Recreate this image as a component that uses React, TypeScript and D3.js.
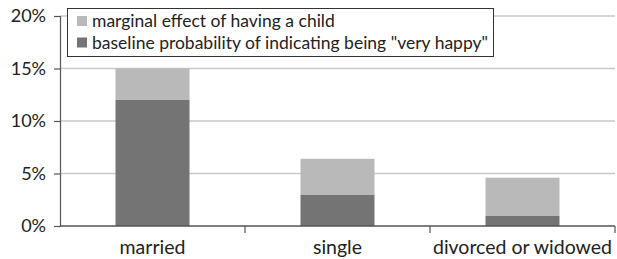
import { useEffect, useRef } from 'react';
import * as d3 from 'd3';

const categories = ['married', 'single', 'divorced or widowed'];
const baseline = [12, 3.0, 1.0];
const childEffect = [3.0, 3.4, 3.6];
const yTicks = [0, 5, 10, 15, 20];
const legendLabels = ['marginal effect of having a child', 'baseline probability of indicating being "very happy"'];

const DARK = '#747474';
const LIGHT = '#b9b9b9';
const FONT = 'Lato, "Open Sans", sans-serif';

export default function App() {
  const ref = useRef<SVGSVGElement>(null);

  useEffect(() => {
    if (!ref.current) return;
    const svg = d3.select(ref.current);
    svg.selectAll('*').remove();

    const W = 617, H = 259;
    const margin = { top: 16, right: 2, bottom: 33, left: 60 };

    const x = d3.scaleBand<string>()
      .domain(categories)
      .range([margin.left, W - margin.right])
      .paddingInner(0.6)
      .paddingOuter(0.3);
    const xEdges = d3.scaleBand<string>()
      .domain(categories)
      .range([margin.left, W - margin.right])
      .padding(0);
    const y = d3.scaleLinear().domain([0, 20]).range([H - margin.bottom, margin.top]);

    // gridlines
    svg.append('g')
      .selectAll('line')
      .data(yTicks.filter(t => t > 0))
      .enter()
      .append('line')
      .attr('x1', margin.left)
      .attr('x2', W - margin.right)
      .attr('y1', d => y(d))
      .attr('y2', d => y(d))
      .attr('stroke', '#c9c9c9')
      .attr('stroke-width', 1.3);

    const rows = categories.map((c, i) => ({ c, base: baseline[i], eff: childEffect[i] }));

    // stacked bars
    svg.append('g')
      .selectAll('rect.base')
      .data(rows)
      .enter()
      .append('rect')
      .attr('x', d => x(d.c) || 0)
      .attr('width', x.bandwidth())
      .attr('y', d => y(d.base))
      .attr('height', d => y(0) - y(d.base))
      .attr('fill', DARK);
    svg.append('g')
      .selectAll('rect.eff')
      .data(rows)
      .enter()
      .append('rect')
      .attr('x', d => x(d.c) || 0)
      .attr('width', x.bandwidth())
      .attr('y', d => y(d.base + d.eff))
      .attr('height', d => y(d.base) - y(d.base + d.eff))
      .attr('fill', LIGHT);

    // y axis
    const yAxis = svg.append('g')
      .attr('transform', `translate(${margin.left},0)`)
      .call(d3.axisLeft(y).tickValues(yTicks).tickSize(6).tickPadding(8).tickFormat(d => `${d}%`));
    yAxis.select('.domain').attr('stroke', '#555').attr('stroke-width', 1.2);
    yAxis.selectAll('.tick line').attr('stroke', '#555').attr('stroke-width', 1.2);
    yAxis.selectAll('.tick text')
      .attr('font-family', FONT)
      .attr('font-size', '18px')
      .attr('fill', '#222');

    // x axis
    const xAxisG = svg.append('g').attr('transform', `translate(0,${y(0)})`);
    xAxisG.append('line')
      .attr('x1', margin.left)
      .attr('x2', W - margin.right)
      .attr('stroke', '#555')
      .attr('stroke-width', 1.5);
    const edges = categories.map(c => (xEdges(c) || 0) + xEdges.bandwidth());
    xAxisG.selectAll('line.tk')
      .data(edges)
      .enter()
      .append('line')
      .attr('x1', d => d)
      .attr('x2', d => d)
      .attr('y1', 0)
      .attr('y2', 7)
      .attr('stroke', '#555')
      .attr('stroke-width', 1.2);
    xAxisG.selectAll('text')
      .data(categories)
      .enter()
      .append('text')
      .attr('x', d => (x(d) || 0) + x.bandwidth() / 2)
      .attr('y', 28)
      .attr('text-anchor', 'middle')
      .attr('font-family', FONT)
      .attr('font-size', '19.5px')
      .attr('fill', '#222')
      .text(d => d);

    // legend
    const lg = svg.append('g');
    lg.append('rect')
      .attr('x', 67.5)
      .attr('y', 8.5)
      .attr('width', 426)
      .attr('height', 48)
      .attr('fill', 'white')
      .attr('stroke', '#333')
      .attr('stroke-width', 1);
    const legendColors = [LIGHT, DARK];
    legendLabels.forEach((label, i) => {
      lg.append('rect')
        .attr('x', 77)
        .attr('y', 16 + i * 21.5)
        .attr('width', 10)
        .attr('height', 10)
        .attr('fill', legendColors[i]);
      lg.append('text')
        .attr('x', 92)
        .attr('y', 27 + i * 21.5)
        .attr('font-family', FONT)
        .attr('font-size', '17.5px')
        .attr('fill', '#222')
        .text(label);
    });
  }, []);

  return (
    <svg
      ref={ref}
      width={617}
      height={259}
      style={{ position: 'absolute', left: 0, top: 0, background: 'white' }}
    />
  );
}
